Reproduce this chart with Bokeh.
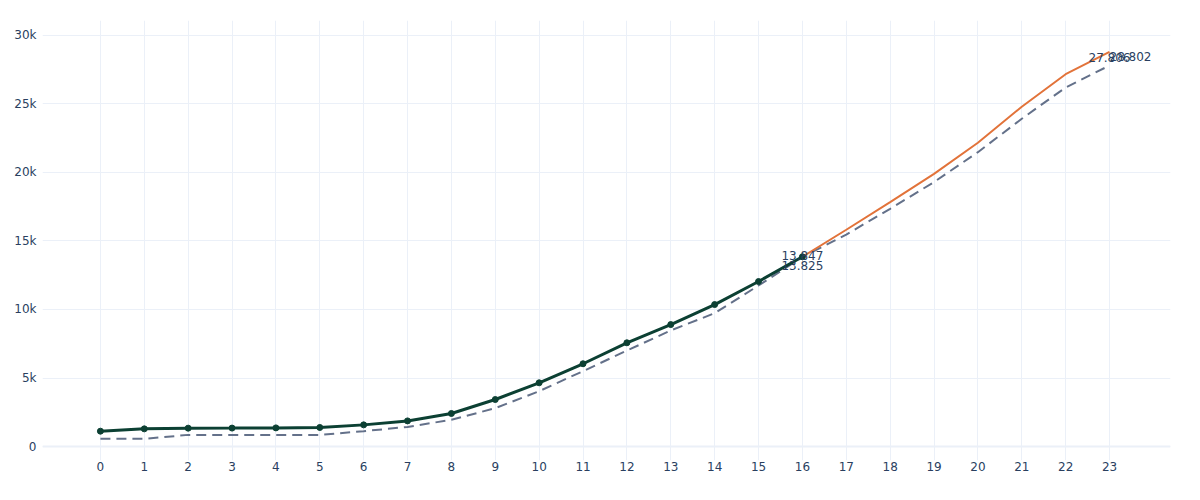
from bokeh.plotting import figure
from bokeh.models import FixedTicker, Range1d, ColumnDataSource
from bokeh.core.properties import value
from bokeh.embed import file_html
from bokeh.resources import INLINE

# ---- data ----
actual_x = list(range(0, 17))
actual_y = [1120, 1290, 1340, 1345, 1360, 1390, 1580, 1870, 2410, 3430, 4650,
            6040, 7570, 8900, 10360, 12040, 13847]

forecast_x = list(range(16, 24))
forecast_y = [13847, 15820, 17840, 19900, 22170, 24800, 27170, 28802]

baseline_x = list(range(0, 24))
baseline_y = [560, 560, 850, 850, 850, 850, 1120, 1430, 1950, 2800, 4040, 5500,
              7000, 8470, 9730, 11750, 13825, 15470, 17350, 19300, 21480, 23920,
              26200, 27806]

x_ticks = list(range(0, 24))
y_ticks = [0, 5000, 10000, 15000, 20000, 25000, 30000]
y_tick_labels = ["0", "5k", "10k", "15k", "20k", "25k", "30k"]


def fmt(v):
    return f"{v:,}".replace(",", ".")


TEXT = "#2a3f5f"
GRID = "#EBF0F8"
FONT = "DejaVu Sans"

p = figure(width=1184, height=484, output_backend="svg", toolbar_location=None,
           x_range=Range1d(-1.32, 24.39), y_range=Range1d(-1020, 31090),
           min_border_left=42, min_border_right=14, min_border_top=20,
           min_border_bottom=24)
p.outline_line_color = None
p.background_fill_color = "white"
p.border_fill_color = "white"

p.xgrid.grid_line_color = GRID
p.ygrid.grid_line_color = GRID
p.xgrid.ticker = FixedTicker(ticks=x_ticks)
p.ygrid.ticker = FixedTicker(ticks=y_ticks)

p.xaxis.ticker = FixedTicker(ticks=x_ticks)
p.yaxis.ticker = FixedTicker(ticks=y_ticks)
p.yaxis.major_label_overrides = {t: l for t, l in zip(y_ticks, y_tick_labels)}
for ax in (p.xaxis, p.yaxis):
    ax.axis_line_color = None
    ax.major_tick_line_color = None
    ax.minor_tick_line_color = None
    ax.major_label_text_color = TEXT
    ax.major_label_text_font = FONT
    ax.major_label_text_font_size = "12px"
p.yaxis.major_label_standoff = 0
p.xaxis.major_label_standoff = -5

# zero line
p.line(x=[-1.32, 24.39], y=[0, 0], line_color=GRID, line_width=2)

# baseline dashed
p.line(baseline_x, baseline_y, line_color="#64718a", line_width=2,
       line_dash="10 6")
# forecast
p.line(forecast_x, forecast_y, line_color="#e2733a", line_width=2)
# actual
p.line(actual_x, actual_y, line_color="#0c4033", line_width=3)
p.scatter(actual_x, actual_y, size=6, fill_color="#0c4033", line_color="#0c4033")

# end labels
lab = ColumnDataSource(dict(
    x=[actual_x[-1], baseline_x[16], baseline_x[-1], forecast_x[-1]],
    y=[actual_y[-1], baseline_y[16], baseline_y[-1], forecast_y[-1]],
    t=[fmt(actual_y[-1]), fmt(baseline_y[16]), fmt(baseline_y[-1]), fmt(forecast_y[-1])],
    xo=[0, 0, 0, 21],
    yo=[-1.5, 8.5, -8.5, 5],
))
p.text(x="x", y="y", text="t", x_offset="xo", y_offset="yo", source=lab,
       text_align="center", text_baseline="middle", text_color=TEXT,
       text_font=value(FONT), text_font_size="12px")

open("out.html", "w").write(file_html(p, INLINE))
